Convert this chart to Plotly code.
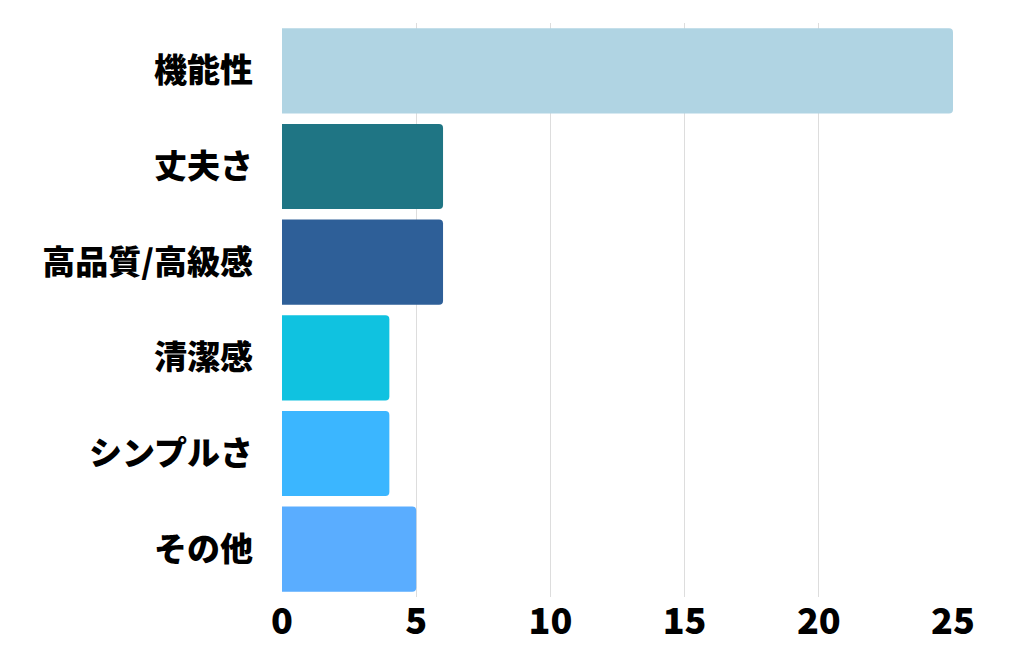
import plotly.graph_objects as go

categories = ['機能性', '丈夫さ', '高品質/高級感', '清潔感', 'シンプルさ', 'その他']
values = [25, 6, 6, 4, 4, 5]
bar_colors = ['#B0D4E3', '#1F7584', '#2E5F98', '#10C2E0', '#3BB6FF', '#5AADFF']
x_ticks = [0, 5, 10, 15, 20, 25]

FONT = 'Noto Sans CJK JP'

fig = go.Figure()
fig.add_trace(go.Bar(
    x=values, y=categories, orientation='h',
    marker=dict(color=bar_colors, line=dict(width=0)),
    hoverinfo='x+y',
))

# page body adds an 8px offset, so size/margins are set to land the plot at the right pixels
fig.update_layout(
    width=1008, height=640,
    margin=dict(l=274, r=63, t=15, b=51),
    paper_bgcolor='white', plot_bgcolor='white',
    bargap=0.11,
    barcornerradius=4,
    showlegend=False,
    font=dict(family=FONT, color='black'),
)
fig.update_xaxes(
    range=[0, 25], tickvals=x_ticks,
    showgrid=True, gridcolor='#DDDDDD', gridwidth=1,
    zeroline=False, showline=False,
    tickfont=dict(family=FONT, size=36, weight=900),
    ticklabelstandoff=0,
    automargin=False,
)
fig.update_yaxes(
    autorange='reversed',
    showgrid=False, zeroline=False, showline=False,
    tickfont=dict(family=FONT, size=33, weight=900),
    ticklabelstandoff=28,
    automargin=False,
)

fig.write_html("out.html")
